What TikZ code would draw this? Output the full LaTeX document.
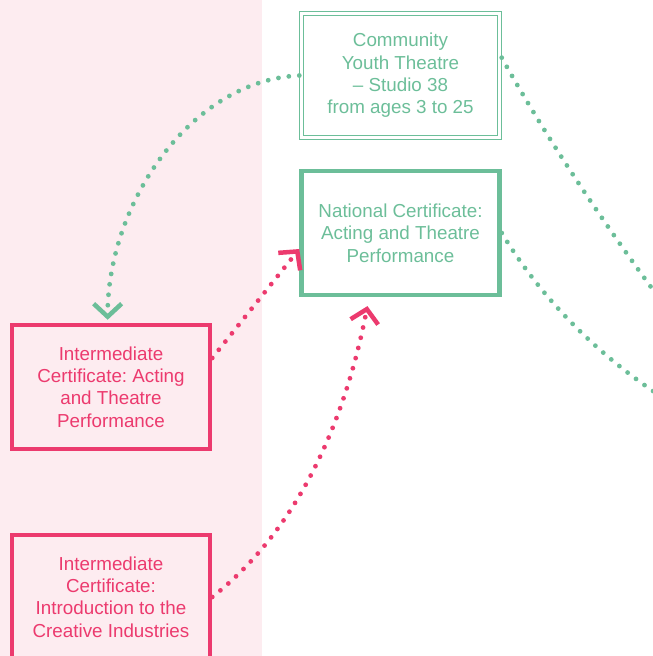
\documentclass[tikz,border=0pt]{standalone}
\usepackage{fontspec}
\setmainfont{Liberation Sans}
\usetikzlibrary{arrows.meta,positioning}
\definecolor{pathgreen}{RGB}{108,190,153}
\definecolor{pathpink}{RGB}{236,58,110}
\definecolor{pinkbg}{RGB}{253,236,240}
\tikzset{
  course/.style={draw,align=center,minimum width=198pt,minimum height=124pt,
    inner sep=3pt,font=\fontsize{18.8}{22.4}\selectfont\frenchspacing},
  greencourse/.style={course,draw=pathgreen,text=pathgreen,line width=4.5pt},
  pinkcourse/.style={course,draw=pathpink,text=pathpink,line width=4.5pt},
  youth/.style={course,draw=none,text=pathgreen,
    minimum width=202pt,minimum height=128pt},
  youthline/.style={draw=pathgreen,line width=1.5pt},
  link/.style={line width=4.8pt,line cap=round,dash pattern=on 0pt off 10.5pt},
  greenlink/.style={link,draw=pathgreen},
  pinklink/.style={link,draw=pathpink},
  barb/.style={-{Straight Barb[length=13pt,width=28pt,line width=4.5pt,sharp]}}
}
\begin{document}
\begin{tikzpicture}[x=1pt,y=-1pt,node distance=81.5pt]
\useasboundingbox (0,0) rectangle (653,656);
\clip (0,0) rectangle (653,656);
\fill[pinkbg] (0,0) rectangle (262,656);
% course boxes
\node[youth] (studio) at (400.5,75.5) {Community\\Youth Theatre\\\textendash\ Studio 38\\from ages 3 to 25};
\draw[youthline] (studio.north west) rectangle (studio.south east);
\draw[youthline] ([shift={(4,4)}]studio.north west) rectangle ([shift={(-4,-4)}]studio.south east);
\node[greencourse] (national) at (400.5,233) {National Certificate:\\Acting and Theatre\\Performance};
\node[pinkcourse] (acting) at (111,387) {Intermediate\\Certificate: Acting\\and Theatre\\Performance};
\node[pinkcourse,below=of acting] (intro) {Intermediate\\Certificate:\\Introduction to the\\Creative Industries};
% links leaving the picture
\coordinate (offa) at (668,310);
\coordinate (offb) at (668,401);
\draw[greenlink,barb,shorten >=3pt] (studio.west) .. controls +(-109,5) and +(0,-119) .. (acting.93);
\draw[greenlink] (studio.10) .. controls +(49,88) and +(-54,-72) .. (offa);
\draw[greenlink] (national.east) .. controls +(40,66) and +(-70,-45) .. (offb);
\draw[pinklink,barb] (acting.16) -- (national.189);
\draw[pinklink,barb,shorten >=9pt] (intro.east) .. controls +(89,-70) and +(-23,118) .. (national.244);
\end{tikzpicture}
\end{document}
